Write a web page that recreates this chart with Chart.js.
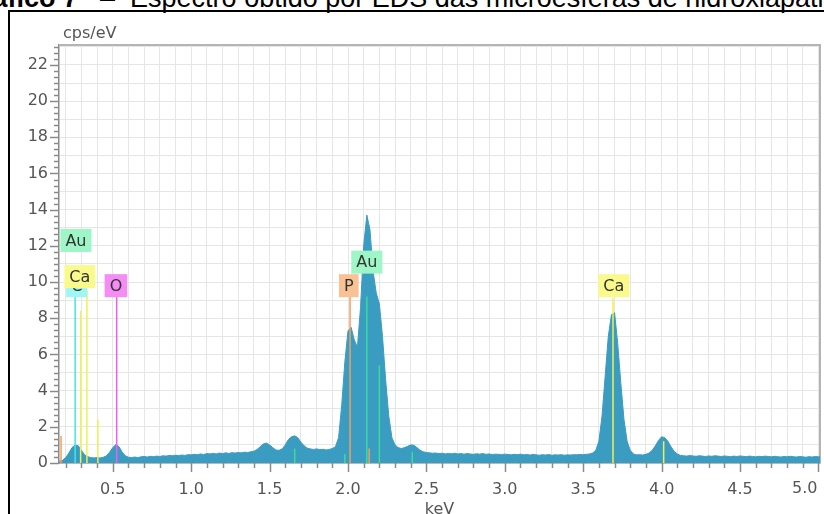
<!DOCTYPE html>
<html>
<head>
<meta charset="utf-8">
<script src="https://cdn.jsdelivr.net/npm/chart.js@4.4.0/dist/chart.umd.min.js"></script>
<style>
  body { margin: 0; background: #fff; overflow: hidden; }
  #wrap { position: absolute; left: 0; top: 0; width: 824px; height: 514px; }
  #title { position: absolute; left: -39px; top: -15px; white-space: nowrap;
           font-family: "Liberation Sans", Arial, sans-serif; font-size: 27px; line-height: 27px; color: #000; }
  #title b { font-weight: bold; }
  #frame { position: absolute; left: 8px; top: 10px; width: 900px; height: 600px;
           border-left: 2px solid #000; border-top: 2px solid #000; }
</style>
</head>
<body>
<div id="title"><b>Gráfico 7</b><span style="margin-left:22px">–</span><span style="margin-left:15px">Espectro obtido por EDS das microesferas de hidroxiapatita</span></div>
<div id="frame"></div>
<div id="wrap"><canvas id="edsCanvas" width="824" height="514"></canvas></div>
<script>
// spectrum channels: first energy and width (keV)
const energyStart = 0.16;
const energyStep = 0.02;
// counts in cps/eV, one value per channel
const counts = [
  0.10,0.15,0.30,0.55,0.85,1.00,0.95,0.70,0.45,0.35,
  0.30,0.28,0.30,0.28,0.32,0.40,0.60,0.85,1.02,0.90,
  0.60,0.40,0.32,0.30,0.33,0.30,0.34,0.36,0.33,0.37,
  0.35,0.38,0.36,0.40,0.38,0.42,0.40,0.43,0.41,0.44,
  0.42,0.46,0.45,0.48,0.46,0.50,0.47,0.52,0.50,0.53,
  0.50,0.55,0.52,0.56,0.53,0.57,0.55,0.58,0.56,0.60,
  0.58,0.62,0.65,0.75,0.90,1.05,1.10,1.00,0.85,0.72,
  0.70,0.78,1.00,1.30,1.45,1.50,1.40,1.15,0.95,0.82,
  0.78,0.75,0.78,0.74,0.76,0.72,0.75,0.80,0.90,1.40,
  3.20,5.60,7.30,7.50,6.80,6.40,8.60,12.00,13.70,12.90,
  10.60,9.40,8.80,7.00,4.60,2.60,1.40,1.00,0.85,0.80,
  0.85,0.92,1.00,0.98,0.85,0.70,0.62,0.58,0.56,0.54,
  0.55,0.52,0.54,0.50,0.53,0.51,0.54,0.50,0.52,0.49,
  0.52,0.50,0.48,0.51,0.49,0.52,0.48,0.50,0.47,0.49,
  0.48,0.46,0.49,0.47,0.45,0.48,0.46,0.49,0.45,0.47,
  0.44,0.47,0.45,0.43,0.46,0.44,0.47,0.43,0.45,0.44,
  0.46,0.43,0.45,0.44,0.46,0.45,0.47,0.46,0.48,0.50,
  0.55,0.70,1.20,2.60,4.80,7.00,8.20,8.30,6.60,4.40,
  2.40,1.20,0.70,0.50,0.45,0.46,0.44,0.48,0.55,0.70,
  0.95,1.25,1.45,1.40,1.20,0.90,0.65,0.50,0.42,0.40,
  0.38,0.41,0.39,0.37,0.40,0.38,0.36,0.39,0.37,0.40,
  0.38,0.36,0.39,0.37,0.35,0.38,0.36,0.39,0.37,0.35,
  0.38,0.36,0.34,0.37,0.35,0.38,0.36,0.34,0.37,0.35,
  0.33,0.36,0.34,0.37,0.35,0.33,0.36,0.34,0.32,0.35,
  0.33,0.36,0.34,0.35
];

// element lines (keV, height in cps/eV)
const lineEnergies = [0.17, 0.26, 0.295, 0.335, 0.405, 0.525, 1.66, 1.98, 2.013, 2.12, 2.135, 2.20, 2.41, 3.69, 4.013];
const lineHeights  = [1.5,  9.4,  8.4,   9.5,   2.4,   9.2,   0.8,  0.5,  9.2,   9.2,  0.8,   5.4,  0.6,  9.1,  1.2];
const lineKinds    = ["B", "C", "Ca", "Ca", "Ca", "O", "Au", "Au", "P", "Au", "P", "Au", "Au", "Ca", "Ca"];

// element labels
const labelTexts    = ["Au", "C", "Ca", "O", "P", "Au", "Ca"];
const labelEnergies = [0.265, 0.27, 0.29, 0.52, 2.005, 2.12, 3.695];
const labelHeights  = [12.3, 9.8, 10.3, 9.8, 9.8, 11.1, 9.8];

const xTickLabels = ["0.5", "1.0", "1.5", "2.0", "2.5", "3.0", "3.5", "4.0", "4.5", "5.0"];
const yTickLabels = ["0", "2", "4", "6", "8", "10", "12", "14", "16", "18", "20", "22"];

const lineColor = { B: "#f0a060", C: "#40e8e0", Ca: "#f0f050", O: "#f060f0", P: "#f0a060", Au: "#3adc9a" };
const boxColor  = { C: "#9ff7f5", Ca: "#fafa8c", O: "#f48cf4", P: "#f9c294", Au: "#9ef5c6" };

const spectrum = counts.map((c, i) => ({ x: energyStart + i * energyStep, y: c }));

const datasets = lineEnergies.map((e, i) => ({
    data: [{ x: e, y: 0 }, { x: e, y: lineHeights[i] }],
    borderColor: lineColor[lineKinds[i]],
    borderWidth: 1.5,
    pointRadius: 0,
    fill: false,
    order: 0
}));
datasets.push({
    data: spectrum,
    borderColor: "#3a9cc0",
    backgroundColor: "#3a9cc0",
    borderWidth: 1,
    pointRadius: 0,
    tension: 0,
    fill: "origin",
    order: 1
});

const TICK = "#8a8a8a";
const FONT = "DejaVu Sans";

const decorPlugin = {
    id: "decor",
    beforeDatasetsDraw(chart) {
        const { ctx, chartArea: a } = chart;
        ctx.save();
        ctx.strokeStyle = "#b4b4b4";
        ctx.lineWidth = 2;
        ctx.beginPath();
        ctx.moveTo(a.left, a.top);
        ctx.lineTo(a.right, a.top);
        ctx.lineTo(a.right, a.bottom);
        ctx.stroke();
        ctx.restore();
    },
    afterDatasetsDraw(chart) {
        const { ctx, chartArea: a, scales } = chart;
        const xs = scales.x, ys = scales.y;
        ctx.save();
        // tick marks
        ctx.strokeStyle = TICK;
        ctx.lineWidth = 1.5;
        ctx.beginPath();
        for (let k = 2; k <= 50; k++) {
            const px = Math.round(xs.getPixelForValue(k / 10)) + 0.5;
            const len = k % 5 === 0 ? 9 : 5;
            ctx.moveTo(px, a.bottom);
            ctx.lineTo(px, a.bottom + len);
        }
        for (let k = 0; k <= 69; k++) {
            const py = Math.round(ys.getPixelForValue(k / 3)) + 0.5;
            const len = k % 6 === 0 ? 9 : 5;
            ctx.moveTo(a.left, py);
            ctx.lineTo(a.left - len, py);
        }
        ctx.stroke();
        ctx.fillStyle = "#555";
        ctx.font = "16px '" + FONT + "'";
        // last x label kept inside the canvas
        ctx.textAlign = "right";
        ctx.textBaseline = "top";
        ctx.fillText(xTickLabels[xTickLabels.length - 1], xs.getPixelForValue(5.0) - 1, a.bottom + 18);
        // axis unit
        ctx.textAlign = "left";
        ctx.textBaseline = "middle";
        ctx.fillText("cps/eV", a.left + 4, a.top - 11);
        // element labels
        ctx.textAlign = "center";
        labelTexts.forEach((t, i) => {
            const cx = xs.getPixelForValue(labelEnergies[i]);
            const cy = ys.getPixelForValue(labelHeights[i]);
            const w = ctx.measureText(t).width + 10;
            const h = 23;
            ctx.fillStyle = boxColor[t];
            ctx.fillRect(cx - w / 2, cy - h / 2, w, h);
            ctx.fillStyle = "#333";
            ctx.fillText(t, cx, cy + 1);
        });
        ctx.restore();
    }
};

new Chart(document.getElementById("edsCanvas"), {
    type: "line",
    data: { datasets: datasets },
    options: {
        responsive: false,
        animation: false,
        layout: { padding: { top: 45, right: 4, left: 0, bottom: 0 } },
        plugins: { legend: { display: false }, tooltip: { enabled: false } },
        scales: {
            x: {
                type: "linear",
                min: 0.157,
                max: 5.01,
                afterFit: s => { s.height = 51; s.paddingLeft = 0; s.paddingRight = 0; },
                afterBuildTicks: s => {
                    const t = [];
                    for (let k = 2; k <= 50; k++) t.push({ value: k / 10 });
                    s.ticks = t;
                },
                grid: { color: "#e6e6e6", lineWidth: 1, drawTicks: false },
                border: { display: true, color: TICK, width: 1.5 },
                ticks: {
                    autoSkip: false,
                    maxRotation: 0,
                    padding: 17,
                    color: "#555",
                    font: { family: FONT, size: 16 },
                    callback: v => {
                        const k = Math.round(v * 10);
                        return (k % 5 === 0 && k < 50) ? xTickLabels[k / 5 - 1] : "";
                    }
                },
                title: { display: true, text: "keV", color: "#555", font: { family: FONT, size: 16 }, padding: { top: 0, bottom: -5 } }
            },
            y: {
                min: 0,
                max: 23.1,
                afterFit: s => { s.width = 59; },
                afterBuildTicks: s => {
                    const t = [];
                    for (let k = 0; k <= 23; k++) t.push({ value: k });
                    s.ticks = t;
                },
                grid: { color: "#e6e6e6", lineWidth: 1, drawTicks: false },
                border: { display: true, color: TICK, width: 1.5 },
                ticks: {
                    autoSkip: false,
                    padding: 11,
                    color: "#555",
                    font: { family: FONT, size: 16 },
                    callback: v => (v % 2 === 0 ? yTickLabels[v / 2] : "")
                }
            }
        }
    },
    plugins: [decorPlugin]
});
</script>
</body>
</html>
